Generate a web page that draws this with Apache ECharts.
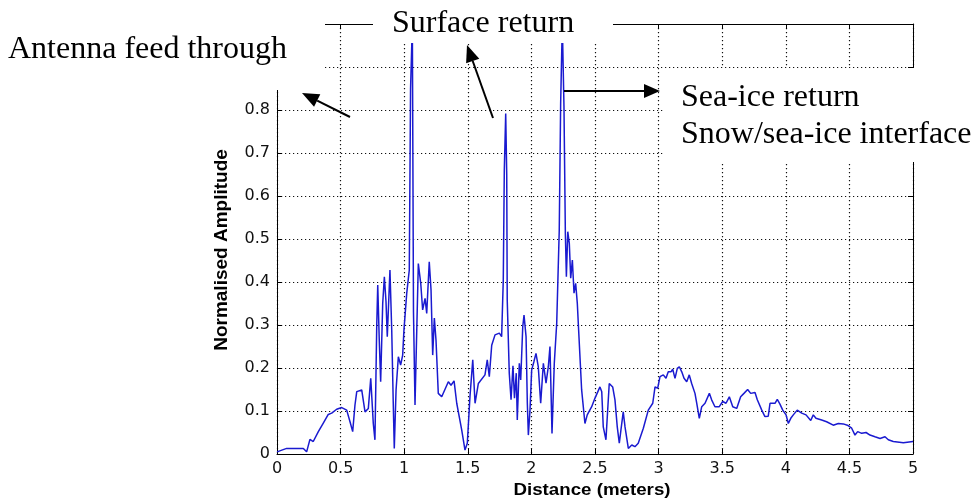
<!DOCTYPE html>
<html>
<head>
<meta charset="utf-8">
<script src="https://cdn.jsdelivr.net/npm/echarts@6/dist/echarts.min.js"></script>
<style>
  html, body { margin: 0; padding: 0; background: #fff; }
  #chart { width: 974px; height: 502px; }
</style>
</head>
<body>
<div id="chart"></div>
<script>
// ---- data ----
const distance = [
  0.000, 0.076, 0.207, 0.233, 0.259, 0.285, 0.325, 0.364, 0.403, 0.430, 0.469, 0.509, 0.548, 0.574, 0.595,
  0.613, 0.627, 0.666, 0.692, 0.718, 0.737, 0.757, 0.770, 0.784, 0.792, 0.804, 0.815, 0.831, 0.844, 0.857,
  0.867, 0.888, 0.902, 0.914, 0.922, 0.936, 0.954, 0.972, 0.988, 0.998, 1.020, 1.040, 1.050, 1.064, 1.073,
  1.085, 1.111, 1.130, 1.145, 1.164, 1.177, 1.197, 1.211, 1.224, 1.237, 1.250, 1.268, 1.295, 1.347, 1.368,
  1.392, 1.413, 1.452, 1.478, 1.496, 1.517, 1.539, 1.557, 1.583, 1.635, 1.653, 1.669, 1.688, 1.714, 1.748,
  1.766, 1.779, 1.787, 1.798, 1.806, 1.810, 1.826, 1.840, 1.855, 1.867, 1.881, 1.889, 1.905, 1.916, 1.932,
  1.942, 1.958, 1.968, 1.976, 1.989, 2.002, 2.020, 2.036, 2.054, 2.073, 2.094, 2.115, 2.133, 2.146, 2.162,
  2.180, 2.199, 2.219, 2.230, 2.243, 2.256, 2.267, 2.275, 2.286, 2.298, 2.309, 2.322, 2.335, 2.348, 2.361,
  2.370, 2.395, 2.421, 2.439, 2.474, 2.500, 2.539, 2.553, 2.565, 2.586, 2.612, 2.639, 2.657, 2.675, 2.691,
  2.704, 2.722, 2.736, 2.762, 2.789, 2.814, 2.840, 2.880, 2.919, 2.954, 2.972, 2.993, 3.011, 3.037, 3.058,
  3.076, 3.097, 3.111, 3.129, 3.147, 3.163, 3.182, 3.200, 3.221, 3.241, 3.260, 3.286, 3.300, 3.320, 3.339,
  3.365, 3.399, 3.417, 3.443, 3.477, 3.504, 3.530, 3.556, 3.583, 3.614, 3.645, 3.671, 3.700, 3.724, 3.758,
  3.776, 3.811, 3.836, 3.862, 3.876, 3.915, 3.933, 3.954, 3.976, 4.002, 4.020, 4.039, 4.059, 4.090, 4.125,
  4.159, 4.196, 4.216, 4.237, 4.282, 4.321, 4.373, 4.413, 4.452, 4.484, 4.518, 4.544, 4.565, 4.597, 4.631,
  4.662, 4.701, 4.741, 4.780, 4.806, 4.845, 4.924, 5.000
];
const amplitude = [
  0.005, 0.013, 0.013, 0.005, 0.034, 0.029, 0.052, 0.072, 0.092, 0.095, 0.104, 0.108, 0.102, 0.075, 0.052,
  0.114, 0.145, 0.149, 0.098, 0.106, 0.176, 0.071, 0.033, 0.296, 0.393, 0.265, 0.168, 0.350, 0.412, 0.354,
  0.273, 0.428, 0.288, 0.118, 0.013, 0.149, 0.226, 0.207, 0.230, 0.288, 0.374, 0.428, 0.850, 1.000, 0.330,
  0.114, 0.443, 0.397, 0.335, 0.362, 0.327, 0.447, 0.381, 0.230, 0.316, 0.265, 0.141, 0.133, 0.168, 0.160,
  0.170, 0.118, 0.056, 0.009, 0.025, 0.133, 0.219, 0.118, 0.164, 0.184, 0.219, 0.180, 0.253, 0.277, 0.281,
  0.273, 0.405, 0.660, 0.792, 0.650, 0.358, 0.188, 0.126, 0.205, 0.130, 0.188, 0.079, 0.211, 0.172, 0.296,
  0.323, 0.273, 0.118, 0.044, 0.102, 0.195, 0.215, 0.234, 0.203, 0.118, 0.211, 0.165, 0.203, 0.250, 0.048,
  0.211, 0.304, 0.521, 0.816, 1.000, 0.810, 0.513, 0.412, 0.517, 0.490, 0.409, 0.451, 0.374, 0.397, 0.350,
  0.296, 0.149, 0.071, 0.091, 0.110, 0.130, 0.156, 0.145, 0.063, 0.033, 0.164, 0.156, 0.126, 0.063, 0.025,
  0.056, 0.098, 0.063, 0.013, 0.021, 0.017, 0.025, 0.060, 0.102, 0.118, 0.156, 0.153, 0.180, 0.184, 0.176,
  0.191, 0.191, 0.197, 0.176, 0.199, 0.203, 0.191, 0.176, 0.168, 0.184, 0.164, 0.141, 0.118, 0.083, 0.110,
  0.118, 0.141, 0.126, 0.110, 0.110, 0.122, 0.118, 0.133, 0.110, 0.106, 0.133, 0.141, 0.150, 0.141, 0.143,
  0.126, 0.102, 0.087, 0.088, 0.118, 0.118, 0.127, 0.116, 0.102, 0.091, 0.071, 0.083, 0.091, 0.102, 0.095,
  0.091, 0.078, 0.091, 0.083, 0.079, 0.075, 0.067, 0.071, 0.070, 0.067, 0.060, 0.044, 0.052, 0.048, 0.050,
  0.044, 0.040, 0.036, 0.040, 0.033, 0.029, 0.026, 0.029
];
const xAxisTitle = 'Distance (meters)';
const yAxisTitle = 'Normalised Amplitude';
const annotationTexts = ['Antenna feed through', 'Surface return', 'Sea-ice return', 'Snow/sea-ice interface'];

// ---- chart ----
const chart = echarts.init(document.getElementById('chart'), null, { renderer: 'canvas' });
const seriesData = distance.map((d, i) => [d, amplitude[i]]);
const fmt = v => String(parseFloat(Number(v).toFixed(1)));

const tickFont = { fontFamily: 'DejaVu Sans', fontSize: 16, color: '#111' };
const gridDots = { color: '#111', width: 1.2, type: [1.2, 2.8] };

function arrow(x1, y1, x2, y2, headLen, headHalf) {
  const ang = Math.atan2(y2 - y1, x2 - x1);
  const bx = x2 - headLen * Math.cos(ang), by = y2 - headLen * Math.sin(ang);
  const px = -Math.sin(ang) * headHalf, py = Math.cos(ang) * headHalf;
  return [
    { type: 'line', z: 120, shape: { x1: x1, y1: y1, x2: bx, y2: by }, style: { stroke: '#000', lineWidth: 2 } },
    { type: 'polygon', z: 120, shape: { points: [[x2, y2], [bx + px, by + py], [bx - px, by - py]] }, style: { fill: '#000' } }
  ];
}

const serifText = (txt, x, y) => ({
  type: 'text', z: 120, x: x, y: y,
  style: { text: txt, fontFamily: 'Liberation Serif', fontSize: 32, fill: '#000', textAlign: 'left', textVerticalAlign: 'middle' }
});

const option = {
  animation: false,
  backgroundColor: '#fff',
  grid: { left: 277, right: 61, top: 24, bottom: 48, containLabel: false },
  xAxis: [
    {
      type: 'value', min: 0, max: 5, interval: 0.5, position: 'bottom',
      axisLine: { show: true, onZero: false, lineStyle: { color: '#000', width: 1 } },
      axisTick: { show: true, inside: true, length: 5, lineStyle: { color: '#000' } },
      axisLabel: Object.assign({ margin: 7, formatter: fmt }, tickFont),
      splitLine: { show: true, lineStyle: gridDots }
    },
    {
      type: 'value', min: 0, max: 5, interval: 0.5, position: 'top',
      axisLine: { show: true, onZero: false, lineStyle: { color: '#000', width: 1 } },
      axisTick: { show: true, inside: true, length: 5, lineStyle: { color: '#000' } },
      axisLabel: { show: false },
      splitLine: { show: false }
    }
  ],
  yAxis: [
    {
      type: 'value', min: 0, max: 1, interval: 0.1, position: 'left',
      axisLine: { show: true, onZero: false, lineStyle: { color: '#000', width: 1 } },
      axisTick: { show: true, inside: true, length: 5, lineStyle: { color: '#000' } },
      axisLabel: Object.assign({ margin: 7, formatter: fmt }, tickFont),
      splitLine: { show: true, lineStyle: gridDots }
    },
    {
      type: 'value', min: 0, max: 1, interval: 0.1, position: 'right',
      axisLine: { show: true, onZero: false, lineStyle: { color: '#000', width: 1 } },
      axisTick: { show: true, inside: true, length: 5, lineStyle: { color: '#000' } },
      axisLabel: { show: false },
      splitLine: { show: false }
    }
  ],
  series: [{
    type: 'line',
    xAxisIndex: 0, yAxisIndex: 0,
    data: seriesData,
    symbol: 'none', showSymbol: false,
    lineStyle: { color: '#1a1ad0', width: 1.5 },
    z: 5
  }],
  graphic: [
    // white cover boxes behind the annotations
    { type: 'rect', z: 100, shape: { x: 0, y: 0, width: 325, height: 90 }, style: { fill: '#fff' } },
    { type: 'rect', z: 100, shape: { x: 373, y: 0, width: 240, height: 43 }, style: { fill: '#fff' } },
    { type: 'rect', z: 100, shape: { x: 665, y: 68, width: 309, height: 94 }, style: { fill: '#fff' } },
    serifText(annotationTexts[0], 8, 50),
    serifText(annotationTexts[1], 392, 24),
    serifText(annotationTexts[2], 681, 98),
    serifText(annotationTexts[3], 681, 135),
    ...arrow(350, 117, 302, 93, 17, 7),
    ...arrow(493, 118, 467, 45, 17, 7),
    ...arrow(564, 91, 660, 91, 16, 7),
    {
      type: 'text', z: 120, x: 592, y: 491, scaleX: 1.17,
      style: { text: xAxisTitle, fontFamily: 'Liberation Sans', fontWeight: 'bold', fontSize: 16, fill: '#000', textAlign: 'center', textVerticalAlign: 'middle' }
    },
    {
      type: 'text', z: 120, x: 222, y: 250, rotation: Math.PI / 2,
      style: { text: yAxisTitle, fontFamily: 'Liberation Sans', fontWeight: 'bold', fontSize: 19, fill: '#000', textAlign: 'center', textVerticalAlign: 'middle' }
    }
  ]
};
chart.setOption(option);
</script>
</body>
</html>
